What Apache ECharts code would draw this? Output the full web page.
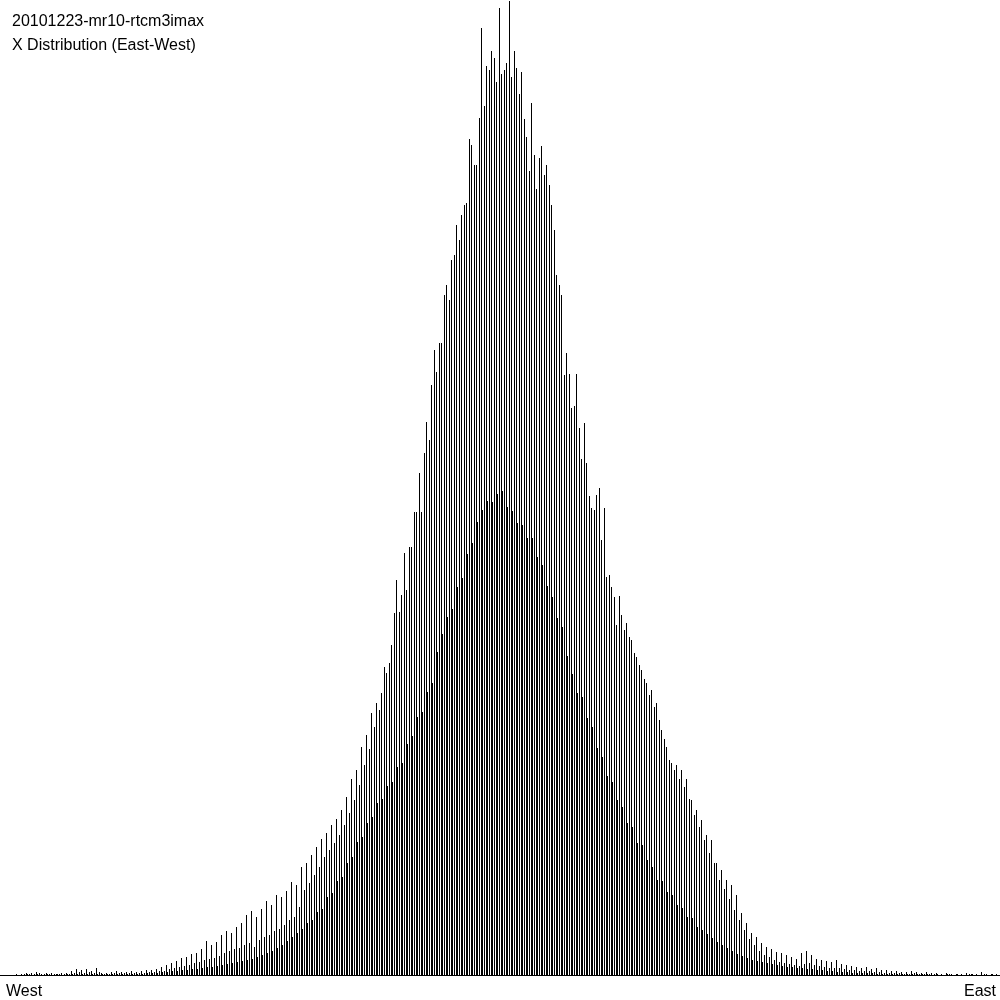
<!DOCTYPE html>
<html>
<head>
<meta charset="utf-8">
<script src="https://cdn.jsdelivr.net/npm/echarts@6/dist/echarts.min.js"></script>
<style>
html,body{margin:0;padding:0;background:#fff;}
#chart{width:1000px;height:1000px;}
</style>
</head>
<body>
<div id="chart"></div>
<script>
// Title lines and direction labels
var titleLines = ["20101223-mr10-rtcm3imax", "X Distribution (East-West)"];
var sideLabels = ["West", "East"];

// Histogram counts (pixel-scale units), one entry per group of 5 bins, West -> East.
// tallBins: first major bin of each group
var tallBins = [
  0,0,0,1,1,2,2,3,1,2,2,1,2,2,4,6,5,6,4,7,2,2,3,4,3,3,4,3,4,5,
  5,6,8,10,12,14,17,18,21,22,26,34,30,33,40,44,42,48,52,60,64,58,66,74,70,80,78,84,93,90,
  108,112,120,128,136,142,150,156,165,178,196,205,228,240,262,272,
  282,302,330,395,380,385,428,463,463,553,590,603,632,690,715,750,760,772,
  830,810,947,909,924,893,901,912,898,907,903,838,872,786,829,
  810,770,700,680,622,567,601,516,512,467,480,435,398,388,350,
  360,352,335,318,305,292,285,272,245,228,212,210,205,196,175,165,155,140,135,112,
  105,95,90,80,62,52,42,38,32,28,26,23,22,20,18,16,22,24,20,16,
  15,14,13,15,11,10,9,8,7,8,6,7,5,5,4,4,3,3,4,3,
  2,3,2,2,1,2,1,1,1,2,1,1,3,1,1,1
];
// pairBins: second major bin of each group
var pairBins = [
  0,0,0,0,1,1,1,2,1,1,1,1,1,1,2,3,2,3,2,3,1,1,2,2,2,2,2,2,2,3,
  3,4,4,6,7,8,9,10,12,13,15,16,17,19,22,24,26,27,30,32,28,35,38,40,44,46,50,55,58,68,
  85,92,100,108,118,125,132,140,150,162,175,190,210,226,248,265,
  308,312,362,363,422,428,463,502,522,535,625,632,680,675,720,735,770,836,
  810,857,869,905,917,967,905,974,924,881,856,804,820,817,800,
  790,745,690,600,601,569,547,552,479,465,487,467,400,378,379,
  345,338,322,310,296,280,268,255,236,215,205,196,188,176,160,148,135,122,112,95,
  86,76,65,55,45,36,30,24,20,18,15,13,12,11,10,9,11,12,10,9,
  8,7,7,7,6,5,5,4,4,4,3,3,2,2,2,2,1,1,2,1,
  1,1,1,0,0,1,0,0,0,1,0,0,1,0,0,0
];
// minorBins: the low in-between bin of each group
var minorBins = [
  0,0,0,0,0,1,0,1,0,1,0,1,0,1,1,1,1,1,1,1,1,1,1,1,1,1,1,1,1,2,
  2,2,3,3,4,4,5,5,6,6,7,8,8,9,10,11,12,13,14,15,16,18,20,22,24,27,30,34,38,42,
  46,52,55,63,66,78,82,94,98,112,118,133,138,152,158,172,176,189,193,208,
  212,231,239,258,263,283,292,323,341,358,366,388,397,421,432,453,465,474,473,481,
  484,468,464,452,450,437,437,418,410,389,378,357,348,319,301,282,278,257,248,227,
  218,199,193,175,168,152,148,132,130,115,108,95,94,83,80,70,67,58,57,48,
  45,41,37,33,30,27,24,21,19,17,15,14,13,12,11,10,9,8,8,7,
  7,6,6,5,5,4,4,3,3,3,2,2,2,2,2,1,1,1,1,1,
  1,1,1,1,1,1,0,1,0,1,0,1,0,0,1,0,0,0,1,0
];

// Build per-bin series: within each group of 5 bins -> [0, tall, minor, 0, pair]
var binIndex = [];
var counts = [];
for (var k = 0; k < tallBins.length; k++) {
  var group = [0, tallBins[k], minorBins[k], 0, pairBins[k]];
  for (var j = 0; j < 5; j++) {
    binIndex.push(k * 5 + j);
    counts.push(group[j]);
  }
}

var chart = echarts.init(document.getElementById('chart'), null, {renderer: 'canvas'});
var font = '16px "Liberation Sans", Arial, sans-serif';
chart.setOption({
  animation: false,
  backgroundColor: '#ffffff',
  grid: {left: 0, right: 0, top: 0, bottom: 25, containLabel: false},
  xAxis: {
    type: 'category',
    data: binIndex,
    boundaryGap: true,
    axisLine: {show: true, lineStyle: {color: '#000', width: 1}},
    axisTick: {show: false},
    axisLabel: {show: false},
    splitLine: {show: false}
  },
  yAxis: {
    type: 'value',
    min: 0,
    max: 975,
    show: false,
    splitLine: {show: false}
  },
  series: [{
    type: 'bar',
    data: counts,
    barWidth: 1,
    silent: true,
    itemStyle: {color: '#000'}
  }],
  graphic: [
    {type: 'text', left: 12, top: 14, style: {text: titleLines[0], font: font, fill: '#000'}},
    {type: 'text', left: 12, top: 38, style: {text: titleLines[1], font: font, fill: '#000'}},
    {type: 'text', left: 6, top: 984, style: {text: sideLabels[0], font: font, fill: '#000'}},
    {type: 'text', right: 4, top: 984, style: {text: sideLabels[1], font: font, fill: '#000'}}
  ]
});
</script>
</body>
</html>
